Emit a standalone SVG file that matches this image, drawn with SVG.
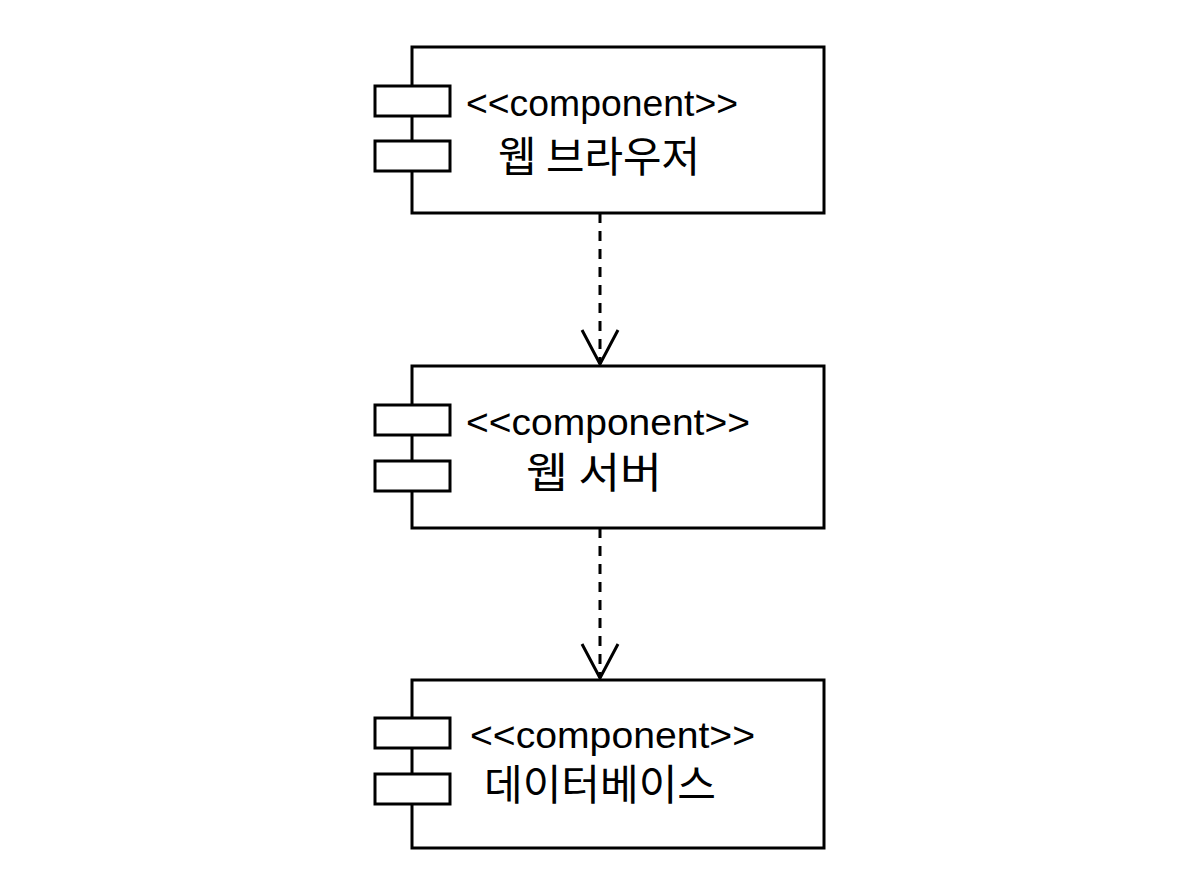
<svg xmlns="http://www.w3.org/2000/svg" width="1200" height="896" viewBox="0 0 1200 896">
<style>
.b{fill:#fff;stroke:#000;stroke-width:3}
.s{font-family:"Liberation Sans","Noto Sans CJK KR",sans-serif;font-size:37px;fill:#000}
.k{font-family:"Noto Sans CJK KR","Liberation Sans",sans-serif;font-size:42px;fill:#000}
.c{fill:none;stroke:#000;stroke-width:3}
</style>
<rect width="1200" height="896" fill="#fff"/>
<g id="browser">
<rect class="b" x="412" y="47" width="412" height="166"/>
<rect class="b" x="375" y="86" width="75" height="30"/>
<rect class="b" x="375" y="141" width="75" height="30"/>
<text class="s" x="466" y="116" textLength="272" lengthAdjust="spacingAndGlyphs">&lt;&lt;component&gt;&gt;</text>
<text class="k" x="498" y="172" textLength="202" lengthAdjust="spacingAndGlyphs">웹 브라우저</text>
</g>
<g id="server">
<rect class="b" x="412" y="366" width="412" height="162"/>
<rect class="b" x="375" y="405" width="75" height="30"/>
<rect class="b" x="375" y="461" width="75" height="30"/>
<text class="s" x="466" y="435" textLength="284" lengthAdjust="spacingAndGlyphs">&lt;&lt;component&gt;&gt;</text>
<text class="k" x="526" y="488" textLength="136" lengthAdjust="spacingAndGlyphs">웹 서버</text>
</g>
<g id="database">
<rect class="b" x="412" y="680" width="412" height="168"/>
<rect class="b" x="375" y="718" width="75" height="30"/>
<rect class="b" x="375" y="774" width="75" height="30"/>
<text class="s" x="470" y="748" textLength="285" lengthAdjust="spacingAndGlyphs">&lt;&lt;component&gt;&gt;</text>
<text class="k" x="484" y="800" textLength="232" lengthAdjust="spacingAndGlyphs">데이터베이스</text>
</g>
<g id="connectors">
<line class="c" x1="600" y1="213" x2="600" y2="364" stroke-dasharray="10,8"/>
<polyline class="c" points="582,330 600,364 618,330"/>
<line class="c" x1="600" y1="528" x2="600" y2="678" stroke-dasharray="10,8"/>
<polyline class="c" points="582,644 600,678 618,644"/>
</g>
</svg>
